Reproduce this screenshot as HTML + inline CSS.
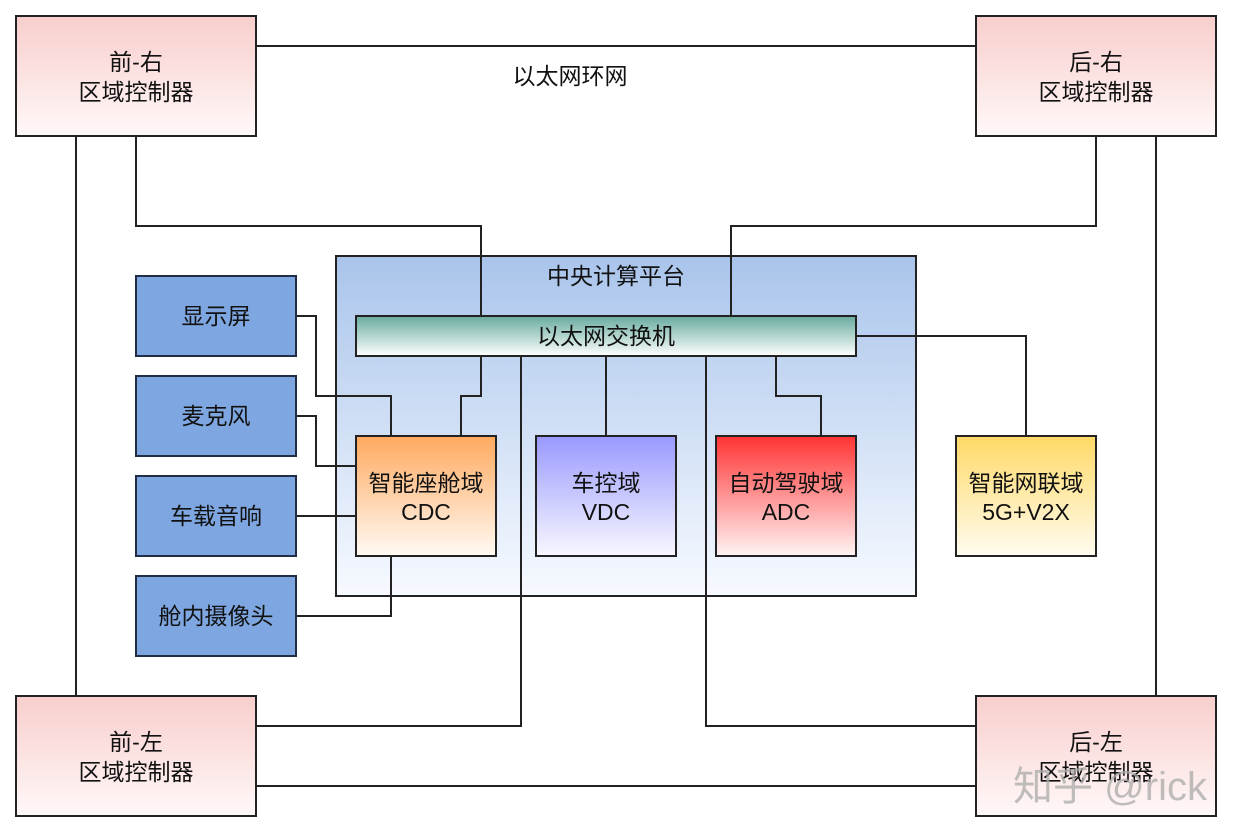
<!DOCTYPE html>
<html><head><meta charset="utf-8"><style>
html,body{margin:0;padding:0;background:#fff;}
svg{display:block;}
text{font-family:"Liberation Sans","Noto Sans CJK SC",sans-serif;font-size:23px;fill:#111;text-anchor:middle;}
</style></head><body>
<svg width="1234" height="834" viewBox="0 0 1234 834" xmlns="http://www.w3.org/2000/svg">
<defs>
<linearGradient id="pink" x1="0" y1="0" x2="0" y2="1"><stop offset="0" stop-color="#f8cecc"/><stop offset="1" stop-color="#fff8f8"/></linearGradient>
<linearGradient id="plat" x1="0" y1="0" x2="0" y2="1"><stop offset="0" stop-color="#a9c4eb"/><stop offset="1" stop-color="#f7faff"/></linearGradient>
<linearGradient id="sw" x1="0" y1="0" x2="0" y2="1"><stop offset="0" stop-color="#67ab9f"/><stop offset="1" stop-color="#ffffff"/></linearGradient>
<linearGradient id="or" x1="0" y1="0" x2="0" y2="1"><stop offset="0" stop-color="#ffa95e"/><stop offset="1" stop-color="#fffaf4"/></linearGradient>
<linearGradient id="pu" x1="0" y1="0" x2="0" y2="1"><stop offset="0" stop-color="#9999ff"/><stop offset="1" stop-color="#f8f8ff"/></linearGradient>
<linearGradient id="rd" x1="0" y1="0" x2="0" y2="1"><stop offset="0" stop-color="#ff3333"/><stop offset="1" stop-color="#fff4f4"/></linearGradient>
<linearGradient id="ye" x1="0" y1="0" x2="0" y2="1"><stop offset="0" stop-color="#ffd966"/><stop offset="1" stop-color="#fffcf0"/></linearGradient>
</defs>
<g stroke="#222" stroke-width="2" fill="none">
<path d="M256,46H976"/>
<path d="M76,136V696"/>
<path d="M1156,136V696"/>
<path d="M256,786H976"/>
<rect x="336" y="256" width="580" height="340" fill="url(#plat)"/>
<path d="M136,136V226H481V316"/>
<path d="M1096,136V226H731V316"/>
<path d="M481,356V396H461V436"/>
<path d="M296,316H316V396H391V436"/>
<path d="M296,416H316V466H356"/>
<path d="M296,516H356"/>
<path d="M296,616H391V556"/>
<path d="M521,356V726H256"/>
<path d="M606,356V436"/>
<path d="M706,356V726H976"/>
<path d="M776,356V396H821V436"/>
<path d="M856,336H1026V436"/>
<rect x="16" y="16" width="240" height="120" fill="url(#pink)"/>
<rect x="976" y="16" width="240" height="120" fill="url(#pink)"/>
<rect x="16" y="696" width="240" height="120" fill="url(#pink)"/>
<rect x="976" y="696" width="240" height="120" fill="url(#pink)"/>
<rect x="356" y="316" width="500" height="40" fill="url(#sw)"/>
<rect x="356" y="436" width="140" height="120" fill="url(#or)"/>
<rect x="536" y="436" width="140" height="120" fill="url(#pu)"/>
<rect x="716" y="436" width="140" height="120" fill="url(#rd)"/>
<rect x="956" y="436" width="140" height="120" fill="url(#ye)"/>
<g fill="#7ea6e0" stroke="#1f2d45">
<rect x="136" y="276" width="160" height="80"/>
<rect x="136" y="376" width="160" height="80"/>
<rect x="136" y="476" width="160" height="80"/>
<rect x="136" y="576" width="160" height="80"/>
</g>
</g>
<text x="136" y="70">前-右</text><text x="136" y="100">区域控制器</text>
<text x="1096" y="70">后-右</text><text x="1096" y="100">区域控制器</text>
<text x="136" y="750">前-左</text><text x="136" y="780">区域控制器</text>
<text x="1096" y="750">后-左</text><text x="1096" y="780">区域控制器</text>
<text x="570" y="84">以太网环网</text>
<text x="616" y="284">中央计算平台</text>
<text x="606" y="344">以太网交换机</text>
<text x="426" y="491">智能座舱域</text><text x="426" y="520">CDC</text>
<text x="606" y="491">车控域</text><text x="606" y="520">VDC</text>
<text x="786" y="491">自动驾驶域</text><text x="786" y="520">ADC</text>
<text x="1026" y="491">智能网联域</text><text x="1026" y="520">5G+V2X</text>
<text x="216" y="324">显示屏</text>
<text x="216" y="424">麦克风</text>
<text x="216" y="524">车载音响</text>
<text x="216" y="624">舱内摄像头</text>
<text x="1110" y="800" style="font-size:40px;fill:#aaa;fill-opacity:0.75">知乎 @rick</text>
</svg>
</body></html>
